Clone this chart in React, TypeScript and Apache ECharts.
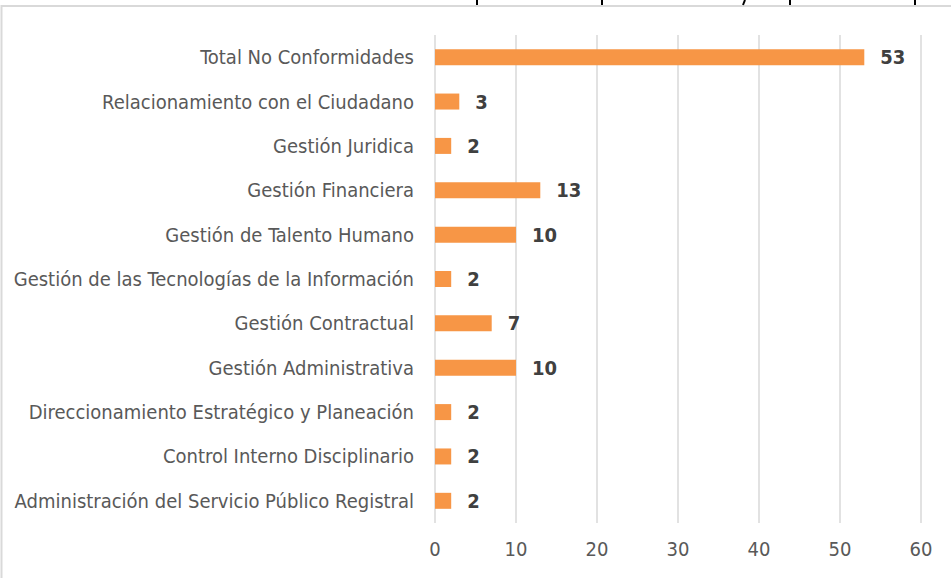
import React, { useEffect, useRef } from "react";
import * as echarts from "echarts";

const categories = [
  "Total No Conformidades",
  "Relacionamiento con el Ciudadano",
  "Gestión Juridica",
  "Gestión Financiera",
  "Gestión de Talento Humano",
  "Gestión de las Tecnologías de la Información",
  "Gestión Contractual",
  "Gestión Administrativa",
  "Direccionamiento Estratégico y Planeación",
  "Control Interno Disciplinario",
  "Administración del Servicio Público Registral",
];
const values = [53, 3, 2, 13, 10, 2, 7, 10, 2, 2, 2];
const axisMin = 0;
const axisMax = 60;
const axisInterval = 10;

const FONT = "'Liberation Sans Narrow', 'Arial Narrow', 'DejaVu Sans Condensed', sans-serif";

export default function App() {
  const ref = useRef<HTMLDivElement>(null);
  useEffect(() => {
    document.body.style.margin = "0";
    const chart = echarts.init(ref.current!, undefined, { renderer: "svg" });
    const stubs = [477, 602, 790, 915].map((x) => ({
      type: "line",
      shape: { x1: x, y1: 0, x2: x, y2: 5 },
      style: { stroke: "#000", lineWidth: 2 },
    }));
    chart.setOption({
      animation: false,
      backgroundColor: "#fff",
      textStyle: { fontFamily: FONT },
      graphic: [
        {
          type: "polyline",
          shape: { points: [[1.5, 578], [1.5, 6], [951, 6]] },
          style: { stroke: "#D9D9D9", lineWidth: 2, fill: "none" },
        },
        {
          type: "line",
          shape: { x1: 745, y1: 0, x2: 743, y2: 5 },
          style: { stroke: "#000", lineWidth: 2 },
        },
        ...stubs,
      ],
      grid: {
        left: 435,
        right: 30,
        top: 35,
        bottom: 55,
        containLabel: false,
        outerBoundsMode: "none",
      },
      xAxis: {
        type: "value",
        min: axisMin,
        max: axisMax,
        interval: axisInterval,
        axisLine: { show: false },
        axisTick: { show: false },
        splitLine: { show: true, lineStyle: { color: "#D9D9D9", width: 1.5 } },
        axisLabel: { color: "#595959", fontSize: 20, margin: 16, fontFamily: FONT },
      },
      yAxis: {
        type: "category",
        inverse: true,
        data: categories,
        axisLine: { show: false },
        axisTick: { show: false },
        axisLabel: { color: "#595959", fontSize: 20, margin: 21, fontFamily: FONT },
      },
      series: [
        {
          type: "bar",
          data: values,
          barWidth: 16,
          itemStyle: { color: "#F79646" },
          label: {
            show: true,
            position: "right",
            distance: 16,
            color: "#404040",
            fontWeight: "bold",
            fontSize: 20,
            fontFamily: FONT,
          },
        },
      ],
    });
    return () => chart.dispose();
  }, []);
  return <div ref={ref} style={{ width: 951, height: 578 }} />;
}
